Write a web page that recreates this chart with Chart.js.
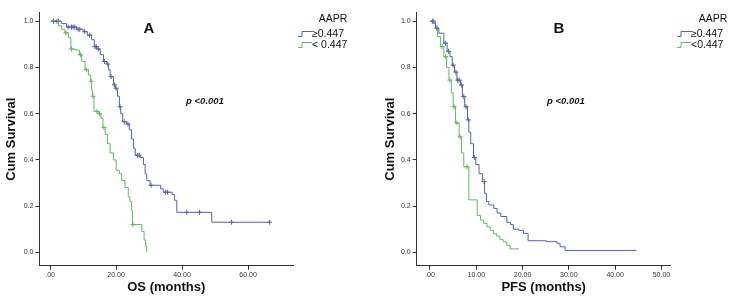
<!DOCTYPE html>
<html>
<head>
<meta charset="utf-8">
<script src="https://cdn.jsdelivr.net/npm/chart.js@4"></script>
<style>
  body { margin: 0; background: #fff; }
  #wrap { position: relative; width: 734px; height: 304px; font-family: "Liberation Sans", Arial, sans-serif; color: #111; }
  .panel { position: absolute; top: 0; width: 367px; height: 304px; }
  .lbl { position: absolute; white-space: nowrap; transform: translate(-50%, -50%); }
  .big { font-weight: bold; font-size: 15px; }
  .pval { font-weight: bold; font-style: italic; font-size: 9.5px; }
  .leg { position: absolute; font-size: 10.5px; white-space: nowrap; line-height: 11px; }
  .leg svg { vertical-align: -1px; margin-right: 0px; }
</style>
</head>
<body>
<div id="wrap">
  <div class="panel" style="left:0"><canvas id="chartA"></canvas></div>
  <div class="panel" style="left:367px"><canvas id="chartB"></canvas></div>

  <div class="lbl big" style="left:149px; top:27px">A</div>
  <div class="lbl pval" style="left:205px; top:100px">p &lt;0.001</div>
  <div class="lbl" style="left:333px; top:18px; font-size:10.5px">AAPR</div>
  <div class="leg" style="left:298px; top:28px"><svg width="14" height="8"><path d="M0,6.5H4V1.5H14" fill="none" stroke="#5563ad" stroke-width="1"/></svg>≥0.447</div>
  <div class="leg" style="left:298px; top:39px"><svg width="14" height="8"><path d="M0,6.5H4V1.5H14" fill="none" stroke="#62b962" stroke-width="1"/></svg>&lt; 0.447</div>

  <div class="lbl big" style="left:559px; top:27px">B</div>
  <div class="lbl pval" style="left:566px; top:100px">p &lt;0.001</div>
  <div class="lbl" style="left:713px; top:18px; font-size:10.5px">AAPR</div>
  <div class="leg" style="left:677px; top:28px"><svg width="14" height="8"><path d="M0,6.5H4V1.5H14" fill="none" stroke="#5563ad" stroke-width="1"/></svg>≥0.447</div>
  <div class="leg" style="left:677px; top:39px"><svg width="14" height="8"><path d="M0,6.5H4V1.5H14" fill="none" stroke="#62b962" stroke-width="1"/></svg>&lt;0.447</div>
</div>
<script>
// --- OS (panel A) ---
const osHighT = [0.5, 3.5, 5, 8, 10, 11.3, 12.6, 13.4, 14.1, 15.2, 16.2, 17.2, 17.7, 18.2, 19.2, 19.7, 20.4, 21, 21.4, 22, 23.2, 24, 24.7, 25.3, 25.8, 27.3, 28.3, 28.8, 29.3, 30.3, 33.5, 34.3, 37, 37.7, 38.4, 49, 66.5];
const osHighS = [1, 0.99, 0.975, 0.965, 0.955, 0.94, 0.92, 0.89, 0.88, 0.855, 0.826, 0.815, 0.79, 0.76, 0.725, 0.71, 0.676, 0.63, 0.60, 0.565, 0.555, 0.53, 0.49, 0.45, 0.42, 0.41, 0.38, 0.34, 0.31, 0.29, 0.275, 0.26, 0.25, 0.225, 0.173, 0.13, 0.13];
const osHighCens = [1, 2.5, 5.5, 6.5, 7, 7.5, 8.5, 9, 10.5, 12, 13.6, 14, 14.6, 16.5, 17.5, 18.5, 19.5, 20, 21.2, 22.5, 23.6, 26.5, 27, 30.6, 35, 35.6, 41.4, 45.3, 55, 66.5];

const osLowT = [0.5, 2.5, 3.5, 4.5, 5.6, 6.3, 7.6, 8.9, 9.6, 10.6, 11.6, 12.3, 12.6, 12.9, 13.3, 14.6, 15.4, 16, 16.7, 17.4, 18.2, 19.2, 20, 21, 21.7, 22.7, 23.7, 24.2, 24.7, 25, 27.8, 28.5, 29, 29.3];
const osLowS = [1, 0.98, 0.965, 0.95, 0.93, 0.88, 0.875, 0.855, 0.826, 0.79, 0.767, 0.74, 0.70, 0.675, 0.61, 0.60, 0.58, 0.54, 0.51, 0.47, 0.43, 0.40, 0.355, 0.34, 0.31, 0.28, 0.24, 0.22, 0.18, 0.12, 0.09, 0.053, 0.025, 0.0];
const osLowCens = [1, 2, 4.8, 6.5, 9.2, 11, 12.5, 13, 14.2, 15, 16.3, 25.1];

// --- PFS (panel B) ---
const pfsHighT = [0.15, 0.9, 1.2, 1.9, 3, 3.7, 4.3, 4.8, 5.3, 5.8, 6.6, 7, 7.5, 8.1, 8.4, 8.8, 9.4, 9.9, 10.6, 11.3, 11.8, 12.2, 12.7, 13.8, 14.5, 15.3, 16.6, 17.4, 18, 19.2, 20.2, 21.2, 25.2, 27.4, 28.1, 29.2, 44.6];
const pfsHighS = [1, 0.99, 0.97, 0.948, 0.905, 0.87, 0.847, 0.81, 0.78, 0.745, 0.724, 0.674, 0.63, 0.573, 0.52, 0.47, 0.41, 0.38, 0.34, 0.306, 0.255, 0.22, 0.205, 0.19, 0.17, 0.155, 0.13, 0.12, 0.10, 0.095, 0.082, 0.05, 0.046, 0.039, 0.024, 0.008, 0.008];
const pfsHighCens = [0.5, 0.7, 1.5, 3.3, 4, 5, 5.6, 6, 6.3, 6.8, 7.3, 7.8, 8.3, 9.6, 11.7];

const pfsLowT = [0.5, 1.2, 1.6, 2.3, 3, 3.6, 4.1, 4.6, 5, 5.5, 6.3, 6.8, 7.3, 8.4, 10.2, 10.9, 11.6, 12.3, 13, 13.7, 14.4, 15.1, 15.8, 16.6, 17.3, 19.2];
const pfsLowS = [1, 0.97, 0.934, 0.89, 0.847, 0.80, 0.745, 0.69, 0.63, 0.56, 0.50, 0.43, 0.37, 0.227, 0.16, 0.14, 0.125, 0.11, 0.095, 0.08, 0.07, 0.055, 0.045, 0.03, 0.015, 0.015];
const pfsLowCens = [1.4, 2.6, 3.4, 4.3, 5.2, 5.8, 6.5, 8];

const yTicks = [0, 0.2, 0.4, 0.6, 0.8, 1.0];
const osTicks = [0, 20, 40, 60];
const pfsTicks = [0, 10, 20, 30, 40, 50];

const blue = '#5563ad';
const green = '#62b962';

// survival level at time t (step function)
function survAt(T, S, t) {
  let v = S[0];
  for (let i = 0; i < T.length; i++) { if (T[i] <= t) v = S[i]; }
  return v;
}

function curve(T, S, color) {
  return {
    data: T.map((t, i) => ({ x: t, y: S[i] })),
    borderColor: color, borderWidth: 1, stepped: true,
    pointRadius: 0, fill: false
  };
}

function marks(cens, T, S, color) {
  return {
    data: cens.map(t => ({ x: t, y: survAt(T, S, t) })),
    showLine: false, borderColor: color, backgroundColor: color,
    pointStyle: 'cross', pointRadius: 2.5, borderWidth: 1
  };
}

const tickFont = { family: 'Liberation Sans, Arial, sans-serif', size: 7 };
const titleFont = { family: 'Liberation Sans, Arial, sans-serif', size: 13, weight: 'bold' };

function makeChart(id, p) {
  new Chart(document.getElementById(id), {
    type: 'line',
    data: { datasets: p.datasets },
    options: {
      responsive: true, maintainAspectRatio: false, animation: false,
      layout: { padding: p.padding },
      plugins: { legend: { display: false }, tooltip: { enabled: false } },
      scales: {
        x: {
          type: 'linear', min: p.xMin, max: p.xMax,
          afterBuildTicks: s => { s.ticks = p.xTicks.map(v => ({ value: v })); },
          afterFit: s => { s.height = p.xHeight; },
          ticks: { font: tickFont, color: '#333', padding: 1,
                   callback: v => v === 0 ? '.00' : v.toFixed(2) },
          grid: { drawOnChartArea: false, tickLength: 4, color: '#333' },
          border: { display: true, color: '#333' },
          title: { display: true, text: p.xTitle, font: titleFont, color: '#111' }
        },
        y: {
          min: -0.058, max: 1.037,
          afterBuildTicks: s => { s.ticks = yTicks.map(v => ({ value: v })); },
          afterFit: s => { s.width = p.yWidth; },
          ticks: { font: tickFont, color: '#333', padding: 2,
                   callback: v => v.toFixed(1) },
          grid: { drawOnChartArea: false, tickLength: 4, color: '#333' },
          border: { display: true, color: '#333' },
          title: { display: true, text: 'Cum Survival', font: titleFont, color: '#111' }
        }
      }
    }
  });
}

makeChart('chartA', {
  datasets: [
    curve(osHighT, osHighS, blue), curve(osLowT, osLowS, green),
    marks(osHighCens, osHighT, osHighS, blue), marks(osLowCens, osLowT, osLowS, green)
  ],
  padding: { left: 0, top: 12.7, right: 74, bottom: 5.2 },
  yWidth: 39.5, xHeight: 33.1,
  xMin: -3.2, xMax: 73.6, xTicks: osTicks, xTitle: 'OS (months)'
});

makeChart('chartB', {
  datasets: [
    curve(pfsHighT, pfsHighS, blue), curve(pfsLowT, pfsLowS, green),
    marks(pfsHighCens, pfsHighT, pfsHighS, blue), marks(pfsLowCens, pfsLowT, pfsLowS, green)
  ],
  padding: { left: 12, top: 12.7, right: 63.3, bottom: 5.2 },
  yWidth: 37.7, xHeight: 33.1,
  xMin: -2.87, xMax: 52, xTicks: pfsTicks, xTitle: 'PFS (months)'
});
</script>
</body>
</html>
